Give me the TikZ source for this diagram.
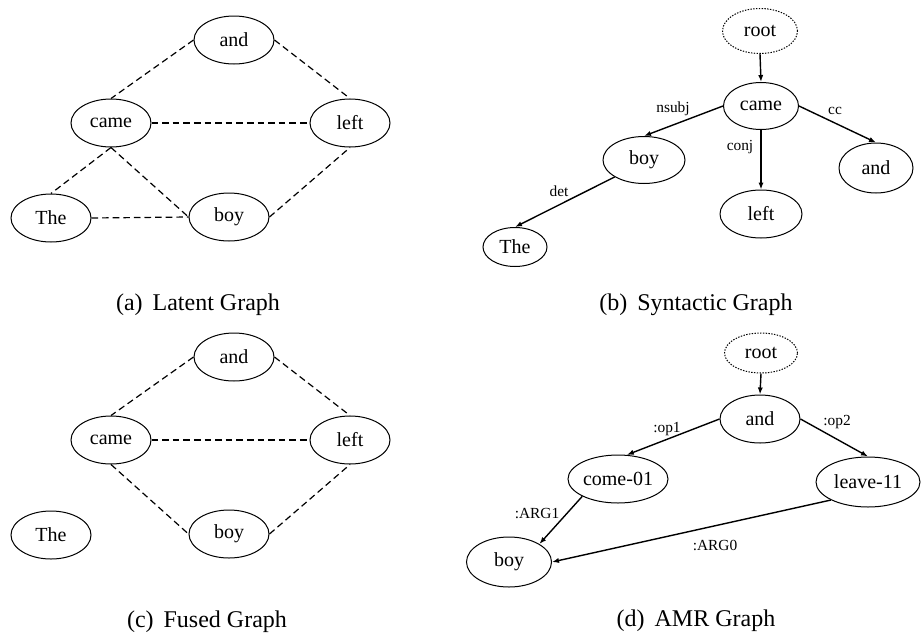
\documentclass[tikz,border=0pt]{standalone}
\usepackage{fontspec}
\setmainfont{Liberation Serif}
\usetikzlibrary{arrows.meta,shapes.geometric}
\begin{document}
\begin{tikzpicture}[x=0.5pt,y=-0.5pt,
  nd/.style={ellipse,draw,line width=0.5pt,inner sep=0pt,font=\fontsize{10}{12}\selectfont,minimum width=40pt,minimum height=24pt},
  rootnd/.style={nd,dash pattern=on 0.7pt off 0.7pt},
  lat/.style={line width=0.6pt,dash pattern=on 3.3pt off 2pt},
  arr/.style={line width=0.7pt,-{Latex[length=3.5pt,width=2.6pt]}},
  lab/.style={font=\fontsize{7.7}{9}\selectfont,inner sep=0pt},
  captxt/.style={font=\fontsize{12}{14}\selectfont,inner sep=0pt}]
\useasboundingbox (0,0) rectangle (921,632);

% (a) Latent Graph
\node[nd] (aand) at (234,40) {and};
\node[nd] (acame) at (111,123) {came};
\node[nd] (aleft) at (350,123) {left};
\node[nd] (athe) at (51,218) {The};
\node[nd] (aboy) at (229,217) {boy};
\draw[lat] (aand.west) -- (acame.north);
\draw[lat] (aand.east) -- (aleft.north);
\draw[lat] (acame.east) -- (aleft.west);
\draw[lat] (acame.south) -- (athe.north);
\draw[lat] (acame.south) -- (aboy.west);
\draw[lat] (athe.east) -- (aboy.west);
\draw[lat] (aboy.east) -- (aleft.south);
\node[captxt] (capa) at (198,305) {(a)\hspace{5pt}Latent Graph};

% (b) Syntactic Graph
\node[rootnd,minimum width=37.5pt,minimum height=22.5pt] (broot) at (760,31) {root};
\node[nd,minimum width=37.5pt,minimum height=23.5pt] (bcame) at (761,106) {came};
\node[nd,minimum width=41pt,minimum height=23.5pt] (bboy) at (644,160) {boy};
\node[nd,minimum width=41pt,minimum height=24pt] (bleft) at (761,214) {left};
\node[nd,minimum width=37pt,minimum height=25pt] (band) at (876,168) {and};
\node[nd,minimum width=32pt,minimum height=19.5pt] (bthe) at (515,247) {The};
\draw[arr] (broot.south) -- (bcame.north);
\draw[arr] (bcame.west) -- (bboy.north);
\draw[arr] (bcame.east) -- (band.north);
\draw[arr] (bcame.south) -- (bleft.north);
\draw[arr] (bboy.south west) -- (bthe.north);
\node[lab] (lnsubj) at (673,109) {nsubj};
\node[lab] (lcc) at (835,111) {cc};
\node[lab] (lconj) at (740,147) {conj};
\node[lab] (ldet) at (559,191) {det};
\node[captxt] (capb) at (696,305) {(b)\hspace{5pt}Syntactic Graph};

% (c) Fused Graph
\node[nd] (cand) at (234,357) {and};
\node[nd] (ccame) at (111,440) {came};
\node[nd] (cleft) at (350,440) {left};
\node[nd] (cthe) at (51,535) {The};
\node[nd] (cboy) at (229,534) {boy};
\draw[lat] (cand.west) -- (ccame.north);
\draw[lat] (cand.east) -- (cleft.north);
\draw[lat] (ccame.east) -- (cleft.west);
\draw[lat] (ccame.south) -- (cboy.west);
\draw[lat] (cboy.east) -- (cleft.south);
\node[captxt] (capc) at (207,622) {(c)\hspace{5pt}Fused Graph};

% (d) AMR Graph
\node[rootnd,minimum width=36.5pt,minimum height=20pt] (droot) at (761,353) {root};
\node[nd] (dand) at (760,419) {and};
\node[nd,minimum width=50pt,minimum height=24pt] (dcome) at (618,479) {come-01};
\node[nd,minimum width=52pt,minimum height=25pt] (dleave) at (868,482) {leave-11};
\node[nd,minimum width=42.5pt,minimum height=25pt] (dboy) at (509,562) {boy};
\draw[arr] (droot.south) -- (dand.north);
\draw[arr] (dand.west) -- (dcome.70);
\draw[arr] (dand.east) -- (dleave.north);
\draw[arr] (dcome.south west) -- (dboy.north east);
\draw[arr] (dleave.south west) -- (dboy.east);
\node[lab] (lop1) at (667,429) {:op1};
\node[lab] (lop2) at (837,422) {:op2};
\node[lab] (larg1) at (537,514) {:ARG1};
\node[lab] (larg0) at (715,545) {:ARG0};
\node[captxt] (capd) at (696,621) {(d)\hspace{5pt}AMR Graph};
\end{tikzpicture}
\end{document}
